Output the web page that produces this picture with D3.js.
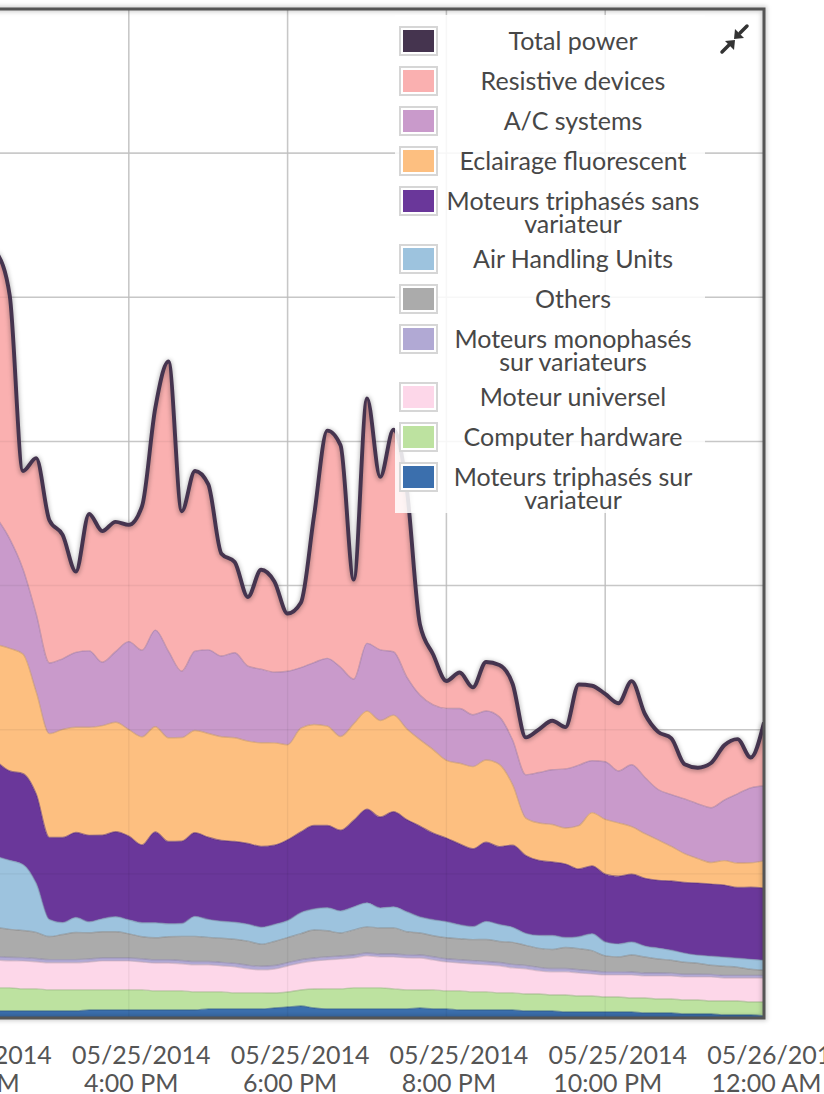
<!DOCTYPE html>
<html><head><meta charset="utf-8">
<script src="https://cdn.jsdelivr.net/npm/d3@7"></script>
<style>
html,body{margin:0;padding:0;background:#fff;}
svg{display:block;font-family:Lato,"Open Sans",sans-serif;}
</style></head><body>
<svg id="chart" width="824" height="1094"></svg>
<script>
// ---------- DATA ----------
const times = ["14:20","14:30","14:40","14:50","15:00","15:10","15:20","15:30","15:40","15:50",
"16:00","16:10","16:20","16:30","16:40","16:50","17:00","17:10","17:20","17:30",
"17:40","17:50","18:00","18:10","18:20","18:30","18:40","18:50","19:00","19:10",
"19:20","19:30","19:40","19:50","20:00","20:10","20:20","20:30","20:40","20:50",
"21:00","21:10","21:20","21:30","21:40","21:50","22:00","22:10","22:20","22:30",
"22:40","22:50","23:00","23:10","23:20","23:30","23:40","23:50","24:00"];

const moteursTriSurVariateur = [0.49,0.49,0.49,0.49,0.49,0.49,0.49,0.56,0.56,0.56,
0.56,0.56,0.56,0.56,0.56,0.56,0.63,0.63,0.63,0.63,
0.63,0.69,0.76,0.83,0.69,0.63,0.63,0.63,0.63,0.63,
0.63,0.63,0.69,0.63,0.63,0.56,0.56,0.56,0.56,0.56,
0.49,0.49,0.49,0.42,0.42,0.42,0.42,0.42,0.42,0.35,
0.35,0.35,0.28,0.28,0.28,0.21,0.21,0.21,0.14];
const computerHardware = [1.60,1.60,1.53,1.53,1.46,1.46,1.46,1.39,1.39,1.39,
1.39,1.39,1.32,1.32,1.32,1.25,1.18,1.18,1.11,1.11,
1.11,1.04,1.04,1.11,1.32,1.39,1.39,1.46,1.46,1.46,
1.39,1.32,1.25,1.32,1.25,1.32,1.25,1.25,1.18,1.18,
1.18,1.18,1.11,1.18,1.11,1.11,1.04,1.04,0.97,1.04,
0.97,0.97,0.97,0.97,0.90,0.97,0.97,0.90,0.97];
const moteurUniversel = [1.94,1.88,1.94,1.88,1.88,1.88,1.88,1.94,2.01,2.01,
2.01,1.94,1.94,1.94,1.88,1.88,1.88,1.81,1.81,1.67,
1.60,1.67,1.81,1.88,1.94,2.01,2.08,2.08,2.22,2.15,
2.22,2.22,2.22,2.08,2.01,1.94,1.94,1.88,1.88,1.74,
1.74,1.60,1.60,1.60,1.60,1.53,1.53,1.53,1.60,1.53,
1.60,1.60,1.60,1.60,1.67,1.60,1.60,1.67,1.67];
const moteursMonoSurVariateurs = [0.24,0.24,0.23,0.23,0.22,0.22,0.22,0.21,0.21,0.21,
0.21,0.22,0.22,0.22,0.23,0.23,0.23,0.24,0.24,0.25,
0.25,0.24,0.23,0.22,0.21,0.21,0.20,0.20,0.20,0.20,
0.20,0.21,0.21,0.22,0.22,0.22,0.23,0.23,0.23,0.24,
0.24,0.24,0.23,0.23,0.22,0.22,0.21,0.21,0.20,0.20,
0.20,0.19,0.19,0.19,0.18,0.18,0.18,0.18,0.18];
const others = [2.01,1.94,1.88,1.81,1.60,1.74,1.88,1.81,1.81,1.81,
1.67,1.53,1.53,1.60,1.67,1.74,1.67,1.67,1.67,1.67,
1.53,1.67,1.74,1.81,1.94,1.81,1.60,1.74,1.81,1.81,
1.81,1.60,1.53,1.46,1.46,1.46,1.46,1.53,1.46,1.53,
1.39,1.32,1.32,1.46,1.46,1.39,1.11,1.04,1.18,1.11,
0.97,0.90,0.83,0.76,0.63,0.63,0.56,0.42,0.35];
const airHandlingUnits = [4.93,4.79,4.58,3.40,1.18,0.83,1.04,0.76,0.90,1.04,
0.97,0.97,1.04,0.90,0.90,1.39,1.25,1.18,1.18,1.18,
1.18,1.18,1.18,1.46,1.46,1.60,1.53,1.60,1.67,1.39,
1.46,1.39,1.11,1.11,1.11,0.97,0.90,1.25,1.18,1.04,
0.83,0.90,0.97,0.69,0.83,1.18,0.97,0.90,0.90,0.76,
0.76,0.69,0.63,0.56,0.63,0.63,0.63,0.69,0.69];
const moteursTriSansVariateur = [6.6,6.2,6.3,6.2,5.7,5.9,5.9,6.0,5.8,5.9,
5.8,5.4,6.3,5.7,5.7,5.8,5.7,5.6,5.6,5.6,
5.6,5.5,5.6,5.6,5.8,5.7,5.6,6.0,6.5,6.3,
6.6,6.4,6.3,6.0,5.8,5.6,5.4,5.5,5.4,5.7,
5.4,5.2,5.1,5.1,4.7,4.7,4.7,4.7,4.7,4.7,
4.7,4.8,4.9,5.0,5.0,5.0,4.9,5.0,5.0];
const eclairageFluorescent = [8.1,8.5,8.3,7.1,7.2,7.5,7.3,7.5,7.6,7.6,
7.4,7.5,7.3,7.2,7.2,7.1,7.2,7.2,7.2,7.1,
7.2,7.1,6.6,7.2,7.0,6.9,6.5,6.7,6.8,6.7,
6.7,6.3,6.0,5.8,5.4,5.6,5.7,5.7,5.7,4.2,
2.6,2.6,2.6,2.5,3.0,3.7,3.8,3.7,3.3,3.1,
2.8,2.4,2.0,1.7,1.5,1.7,1.7,1.7,1.9];
const acSystems = [8.8,7.6,5.9,5.4,4.9,4.9,5.2,5.3,4.4,4.9,
6.1,6.0,6.7,6.0,4.6,5.5,5.8,5.6,5.9,5.2,
5.1,4.9,5.1,4.2,4.3,4.7,4.8,3.1,4.7,4.9,
4.4,3.6,3.1,3.1,3.6,3.8,3.6,3.4,3.3,3.1,
3.0,3.5,3.8,4.1,4.2,3.6,4.0,3.6,4.3,3.9,
3.5,3.6,3.8,3.8,3.8,4.2,4.8,5.2,5.2];
const resistiveDevices = [18.4,16.9,6.8,10.8,9.9,8.6,5.6,9.5,9.1,9.0,
8.1,10.0,15.4,20.1,11.1,12.5,11.5,7.1,6.3,4.8,
6.9,6.3,4.0,4.5,10.2,15.8,15.4,6.9,17.0,12.0,
15.4,13.1,4.9,3.5,1.9,2.5,1.9,3.4,3.6,3.9,
2.6,3.0,3.4,2.9,5.6,5.2,4.7,4.7,5.8,4.4,
4.0,3.9,2.4,2.5,3.1,3.8,3.8,2.1,4.4];

// stack order (bottom -> top)
const seriesNames = ["Moteurs triphasés sur variateur","Computer hardware","Moteur universel",
"Moteurs monophasés sur variateurs","Others","Air Handling Units","Moteurs triphasés sans variateur",
"Eclairage fluorescent","A/C systems","Resistive devices"];
const seriesValues = [moteursTriSurVariateur,computerHardware,moteurUniversel,moteursMonoSurVariateurs,
others,airHandlingUnits,moteursTriSansVariateur,eclairageFluorescent,acSystems,resistiveDevices];
const seriesColors = ["#3b6fad","#bde2a0","#fdd7e9","#b1a9d4","#ababab","#9dc3de","#6a379a","#fdbf80","#c99acb","#fab0b0"];
const totalName = "Total power", totalColor = "#45344f";

const legendNames = ["Total power","Resistive devices","A/C systems","Eclairage fluorescent",
"Moteurs triphasés sans variateur","Air Handling Units","Others","Moteurs monophasés sur variateurs",
"Moteur universel","Computer hardware","Moteurs triphasés sur variateur"];
const legendLines = [["Total power"],["Resistive devices"],["A/C systems"],["Eclairage fluorescent"],
["Moteurs triphasés sans","variateur"],["Air Handling Units"],["Others"],["Moteurs monophasés","sur variateurs"],
["Moteur universel"],["Computer hardware"],["Moteurs triphasés sur","variateur"]];

const tickHours = [14,16,18,20,22,24];
const tickDateLabels = ["05/25/2014","05/25/2014","05/25/2014","05/25/2014","05/25/2014","05/26/2014"];
const tickTimeLabels = ["2:00 PM","4:00 PM","6:00 PM","8:00 PM","10:00 PM","12:00 AM"];

// ---------- LAYOUT ----------
const plotL = -30, plotR = 764, plotT = 9, plotB = 1018;
const svg = d3.select("#chart");
const mkDate = s => { const [h,m] = s.split(":").map(Number); return new Date(2014,4,25,h,m); };
const x = d3.scaleTime().domain([new Date(2014,4,25,14,0), new Date(2014,4,26,0,0)]).range([plotL, plotR]);
const y = d3.scaleLinear().domain([0,70]).range([plotB, plotT]);

const rows = times.map((t,i) => {
  const r = {date: mkDate(t)};
  seriesNames.forEach((n,j) => r[n] = seriesValues[j][i]);
  r.total = d3.sum(seriesValues, s => s[i]);
  return r;
});
const stacked = d3.stack().keys(seriesNames)(rows);
const colorOf = d3.scaleOrdinal().domain(seriesNames.concat([totalName])).range(seriesColors.concat([totalColor]));

const defs = svg.append("defs");
defs.append("clipPath").attr("id","clip").append("rect")
  .attr("x",plotL).attr("y",plotT).attr("width",plotR-plotL).attr("height",plotB-plotT);
const f = defs.append("filter").attr("id","blur").attr("x","-5%").attr("y","-5%").attr("width","110%").attr("height","110%");
f.append("feGaussianBlur").attr("stdDeviation",2);

const tickDates = tickHours.map(h => new Date(2014,4,25,h,0));

// grid (under)
const grid = svg.append("g");
grid.selectAll(".hg").data(y.ticks(7)).join("line")
  .attr("x1",plotL).attr("x2",plotR).attr("y1",d=>y(d)).attr("y2",d=>y(d))
  .attr("stroke","#d2d2d2").attr("stroke-width",1.6);
grid.selectAll(".vg").data(tickDates).join("line")
  .attr("x1",d=>x(d)).attr("x2",d=>x(d)).attr("y1",plotT).attr("y2",plotB)
  .attr("stroke","#d2d2d2").attr("stroke-width",1.6);

const plot = svg.append("g").attr("clip-path","url(#clip)");
const area = d3.area().x(d=>x(d.data.date)).y0(d=>y(d[0])).y1(d=>y(d[1])).curve(d3.curveMonotoneX);
const topLine = d3.line().x(d=>x(d.data.date)).y(d=>y(d[1])).curve(d3.curveMonotoneX);
plot.selectAll(".area").data(stacked).join("path")
  .attr("d",area).attr("fill",d=>colorOf(d.key));
plot.selectAll(".edge").data(stacked.slice(0,-1)).join("path")
  .attr("d",topLine).attr("fill","none")
  .attr("stroke",d=>d3.color(colorOf(d.key)).darker(0.7)).attr("stroke-opacity",0.55).attr("stroke-width",1.4);

// faint grid over areas
plot.selectAll(".hg2").data(y.ticks(7)).join("line")
  .attr("x1",plotL).attr("x2",plotR).attr("y1",d=>y(d)).attr("y2",d=>y(d))
  .attr("stroke","#000").attr("stroke-opacity",0.05).attr("stroke-width",1.4);
plot.selectAll(".vg2").data(tickDates).join("line")
  .attr("x1",d=>x(d)).attr("x2",d=>x(d)).attr("y1",plotT).attr("y2",plotB)
  .attr("stroke","#000").attr("stroke-opacity",0.05).attr("stroke-width",1.4);

// total power line
const totalLine = d3.line().x(d=>x(d.date)).y(d=>y(d.total)).curve(d3.curveMonotoneX);
plot.append("path").datum(rows).attr("d",totalLine).attr("fill","none")
  .attr("stroke","#000").attr("stroke-opacity",0.25).attr("stroke-width",6).attr("filter","url(#blur)")
  .attr("transform","translate(0,1)");
plot.append("path").datum(rows).attr("d",totalLine).attr("fill","none")
  .attr("stroke",colorOf(totalName)).attr("stroke-width",3.9).attr("stroke-linejoin","round");

// frame
svg.append("rect").attr("x",plotL).attr("y",plotT).attr("width",plotR-plotL).attr("height",plotB-plotT)
  .attr("fill","none").attr("stroke","#000").attr("stroke-opacity",0.18).attr("stroke-width",6).attr("filter","url(#blur)");
svg.append("rect").attr("x",plotL).attr("y",plotT).attr("width",plotR-plotL).attr("height",plotB-plotT)
  .attr("fill","none").attr("stroke","#555").attr("stroke-width",3);

// x axis
const axis = svg.append("g").attr("transform",`translate(0,${plotB})`)
  .call(d3.axisBottom(x).tickValues(tickDates).tickSize(0).tickFormat(""));
axis.attr("font-family",null).attr("font-size",null);
axis.select(".domain").remove();
axis.selectAll(".tick").each(function(d,i){
  const g = d3.select(this);
  g.append("text").attr("x",12).attr("y",46).attr("text-anchor","middle")
    .attr("font-family","Lato, 'Open Sans', sans-serif")
    .attr("fill","#555").attr("font-size",25).text(tickDateLabels[i]);
  g.append("text").attr("x",2).attr("y",74).attr("text-anchor","middle")
    .attr("font-family","Lato, 'Open Sans', sans-serif")
    .attr("fill","#555").attr("font-size",25).text(tickTimeLabels[i]);
});

// legend
const lg = svg.append("g");
lg.append("rect").attr("x",395).attr("y",15).attr("width",310).attr("height",498)
  .attr("fill","#fff").attr("fill-opacity",0.86);
let ly = 41;
legendNames.forEach((name,i) => {
  const g = lg.append("g").attr("transform",`translate(0,${ly})`);
  g.append("rect").attr("x",400).attr("y",-14).attr("width",37).attr("height",28)
    .attr("fill","#fff").attr("stroke","#d6d6d6").attr("stroke-width",2);
  g.append("rect").attr("x",403).attr("y",-11).attr("width",31).attr("height",22)
    .attr("fill",colorOf(name));
  const txt = g.append("text").attr("x",573).attr("y",0).attr("dy","0.35em")
    .attr("text-anchor","middle").attr("fill","#474747").attr("font-size",25);
  legendLines[i].forEach((t,j) => {
    txt.append("tspan").attr("x",573).attr("dy", j===0 ? "0.35em" : "23px").text(t);
  });
  txt.attr("dy",null);
  ly += 40 + (legendLines[i].length-1)*18;
});

// compress icon
const ic = svg.append("g").attr("fill","#333").attr("stroke","#333").attr("stroke-width",3.5).attr("stroke-linecap","round");
ic.append("line").attr("x1",747).attr("y1",26).attr("x2",740).attr("y2",33);
ic.append("path").attr("stroke","none").attr("d","M734,39 L735,29 L744,38 Z");
ic.append("line").attr("x1",722).attr("y1",52).attr("x2",729).attr("y2",45);
ic.append("path").attr("stroke","none").attr("d","M735,40 L734,50 L725,41 Z");
</script>
</body></html>
